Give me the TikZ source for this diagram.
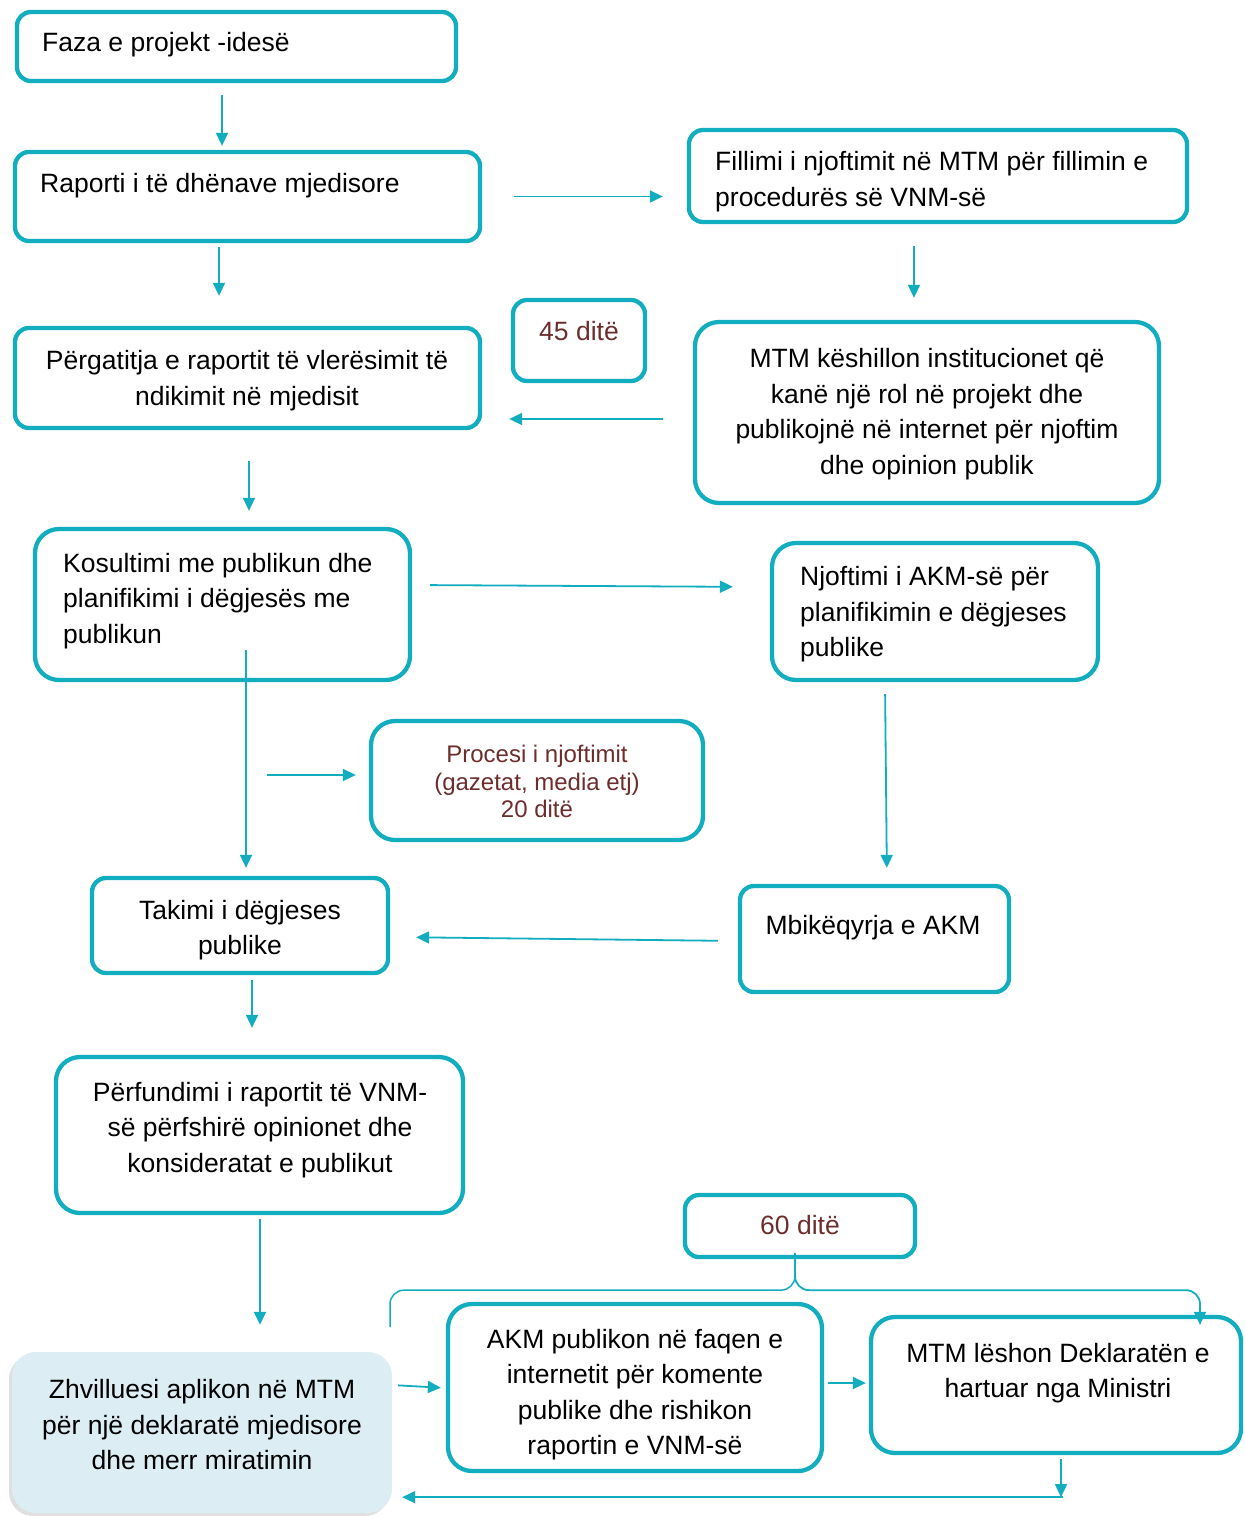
\documentclass[tikz,border=0pt]{standalone}
\usepackage{fontspec}
\setmainfont{Liberation Sans}
\usetikzlibrary{arrows.meta,shadows}
\definecolor{flowteal}{HTML}{12AEC0}
\definecolor{dayred}{HTML}{6E2D2D}
\definecolor{applyfill}{HTML}{DCEDF3}

\begin{document}
\begin{tikzpicture}[x=1pt, y=-1pt,
    box/.style={draw=flowteal, line width=4.3pt, rounded corners=14pt, inner sep=0pt},
    bigbox/.style={box, rounded corners=24pt},
    txt/.style={inner sep=0pt, yshift=-3pt, font=\fontsize{26.5}{35.5}\selectfont},
    daytxt/.style={inner sep=0pt, text=dayred, font=\fontsize{26.5}{35.5}\selectfont},
    small/.style={inner sep=0pt, text=dayred, font=\fontsize{24}{27.5}\selectfont},
    arr/.style={draw=flowteal, line width=1.8pt, -{Triangle[length=13pt,width=12pt]}},
    brace/.style={draw=flowteal, line width=1.5pt, rounded corners=14pt}]
  \useasboundingbox (0,0) rectangle (1245,1516);

  % Boxes
  \node[box, minimum width=439pt, minimum height=69pt] (faza) at (236.5,46.5) {};
  \node[box, minimum width=465pt, minimum height=89pt] (raporti) at (247.5,196.5) {};
  \node[box, minimum width=498pt, minimum height=92pt] (fillimi) at (938,176) {};
  \node[box, minimum width=465pt, minimum height=100pt] (pergatitja) at (247.5,378) {};
  \node[box, minimum width=132pt, minimum height=81pt] (dite45) at (579,340.5) {};
  \node[bigbox, minimum width=464pt, minimum height=181pt] (keshillon) at (927,412.5) {};
  \node[bigbox, minimum width=375pt, minimum height=151pt] (kosultimi) at (222.5,604.5) {};
  \node[bigbox, minimum width=326pt, minimum height=137pt] (njoftimi) at (935,611.5) {};
  \node[bigbox, minimum width=332pt, minimum height=119pt] (procesi) at (537,780.5) {};
  \node[box, minimum width=296pt, minimum height=95pt] (takimi) at (240,925.5) {};
  \node[box, minimum width=269pt, minimum height=106pt] (mbikeqyrja) at (874.5,939) {};
  \node[bigbox, minimum width=407pt, minimum height=156pt] (perfundimi) at (259.5,1135) {};
  \node[box, minimum width=230pt, minimum height=62pt] (dite60) at (800,1226) {};
  \node[fill=applyfill, rounded corners=24pt, inner sep=0pt,
        minimum width=380pt, minimum height=161pt,
        drop shadow={shadow xshift=-3pt, shadow yshift=-3pt, opacity=0.25}] (zhvilluesi) at (202,1432.5) {};
  \node[bigbox, minimum width=374pt, minimum height=167pt] (akm) at (635,1387.5) {};
  \node[bigbox, minimum width=370pt, minimum height=136pt] (leshon) at (1056,1385) {};

  % Texts
  \node[txt, anchor=west] (faza-t) at (42,42) {Faza e projekt -idesë};
  \node[txt, anchor=west] (raporti-t) at (40,183) {Raporti i të dhënave mjedisore};
  \node[txt, anchor=west, align=left] (fillimi-t) at (715,178.5)
    {Fillimi i njoftimit në MTM për fillimin e\\procedurës së VNM-së};
  \node[txt, align=center] (pergatitja-t) at (247,377.5)
    {Përgatitja e raportit të vlerësimit të\\ndikimit në mjedisit};
  \node[daytxt] (dite45-t) at (579,331) {45 ditë};
  \node[txt, align=center] (keshillon-t) at (927,411)
    {MTM këshillon institucionet që\\kanë një rol në projekt dhe\\publikojnë në internet për njoftim\\dhe opinion publik};
  \node[txt, anchor=west, align=left] (kosultimi-t) at (63,598)
    {Kosultimi me publikun dhe\\planifikimi i dëgjesës me\\publikun};
  \node[txt, anchor=west, align=left] (njoftimi-t) at (800,611.5)
    {Njoftimi i AKM-së për\\planifikimin e dëgjeses\\publike};
  \node[small, align=center] (procesi-t) at (537,781.5)
    {Procesi i njoftimit\\(gazetat, media etj)\\20 ditë};
  \node[txt, align=center] (takimi-t) at (240,927) {Takimi i dëgjeses\\publike};
  \node[txt] (mbikeqyrja-t) at (873,925) {Mbikëqyrja e AKM};
  \node[txt, align=center] (perfundimi-t) at (260,1127)
    {Përfundimi i raportit të VNM-\\së përfshirë opinionet dhe\\konsideratat e publikut};
  \node[daytxt] (dite60-t) at (800,1225) {60 ditë};
  \node[txt, align=center] (zhvilluesi-t) at (202,1422)
    {Zhvilluesi aplikon në MTM\\për një deklaratë mjedisore\\dhe merr miratimin};
  \node[txt, align=center] (akm-t) at (635,1391.5)
    {AKM publikon në faqen e\\internetit për komente\\publike dhe rishikon\\raportin e VNM-së};
  \node[txt, align=center] (leshon-t) at (1058,1370)
    {MTM lëshon Deklaratën e\\hartuar nga Ministri};

  % Arrows down the left column
  \draw[arr, shorten <=12pt, shorten >=4pt] ([xshift=-14.5pt]faza.south) -- ([xshift=-25.5pt]raporti.north);
  \draw[arr, shorten <=4pt, shorten >=30pt] ([xshift=-28.5pt]raporti.south) -- ([xshift=-28.5pt]pergatitja.north);
  \draw[arr, shorten <=31pt, shorten >=16pt] ([xshift=1.5pt]pergatitja.south) -- ([xshift=1.5pt]pergatitja.south |- kosultimi.north);
  \draw[arr, shorten <=-32pt, shorten >=8pt] ([xshift=23.5pt]kosultimi.south) -- ([xshift=23.5pt]kosultimi.south |- takimi.north);
  \draw[arr, shorten >=13pt] ([xshift=-102pt,yshift=5.5pt]procesi.west) -- ([yshift=5.5pt]procesi.west);
  \draw[arr, shorten <=5pt, shorten >=27pt] ([xshift=12pt]takimi.south) -- ([xshift=12pt]takimi.south |- perfundimi.north);
  \draw[arr, shorten <=4pt, shorten >=27pt] ([xshift=0.5pt]perfundimi.south) -- ([xshift=0.5pt]perfundimi.south |- zhvilluesi.north);

  % Arrows across and down the right column
  \draw[arr, shorten <=32pt, shorten >=24pt] (raporti.east) -- (raporti.east -| fillimi.west);
  \draw[arr, shorten <=22pt, shorten >=22pt] ([xshift=-24pt]fillimi.south) -- ([xshift=-24pt]fillimi.south |- keshillon.north);
  \draw[arr, shorten <=30pt, shorten >=27pt] ([yshift=-6.5pt]keshillon.west) -- ([yshift=-6.5pt]keshillon.west -| pergatitja.east);
  \draw[arr, shorten <=18pt, shorten >=37pt] ([yshift=19.5pt]kosultimi.east) -- ([yshift=24.5pt]njoftimi.west);
  \draw[arr, shorten <=12pt, shorten >=16pt] ([xshift=-50pt]njoftimi.south) -- ([xshift=12.5pt]mbikeqyrja.north);
  \draw[arr, shorten <=20pt, shorten >=26pt] ([yshift=-2pt]mbikeqyrja.west) -- ([yshift=-11.5pt]takimi.east);

  % Bottom row
  \draw[arr, shorten <=6pt, shorten >=5pt] ([yshift=47.5pt]zhvilluesi.east) -- ([yshift=-0.5pt]akm.west);
  \draw[arr, shorten <=4pt, shorten >=3pt] ([yshift=4.5pt]akm.east) -- ([yshift=4.5pt]akm.east -| leshon.west);
  \coordinate (ret) at ([xshift=5pt,yshift=-42pt]leshon.south);
  \draw[arr, shorten <=4pt] (leshon.south -| ret) -- (ret);
  \draw[arr, shorten >=10pt] ([xshift=2pt]ret) -- (ret -| zhvilluesi.east);

  % Brace under 60 dite
  \coordinate (b-top) at ([xshift=-5pt,yshift=6pt]dite60.south);
  \coordinate (b-left) at (390,1327);
  \coordinate (b-right) at ([xshift=144pt,yshift=-10pt]leshon.north);
  \draw[brace] (b-top) -- ++(0,37) -| (b-left);
  \draw[brace, arr] (b-top) -- ++(0,37) -| (b-right);
\end{tikzpicture}
\end{document}
